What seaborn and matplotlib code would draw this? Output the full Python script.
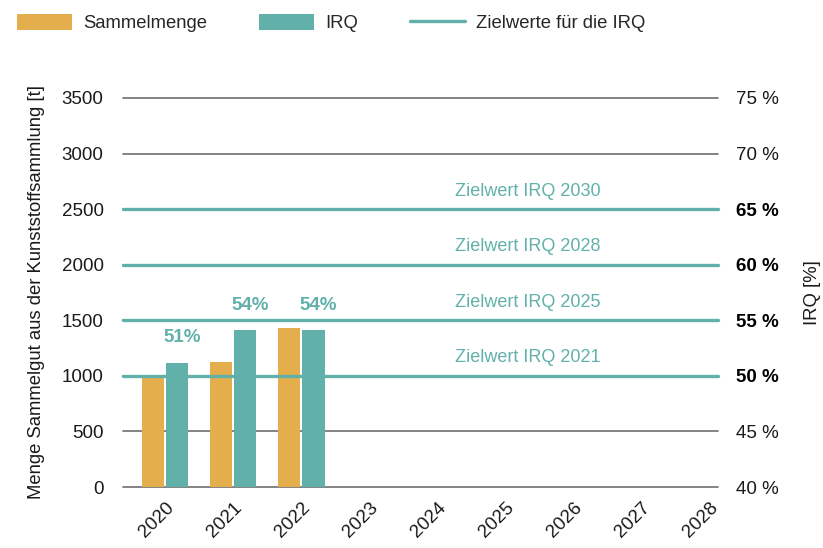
import pandas as pd
import matplotlib.pyplot as plt
import seaborn as sns
from matplotlib.patches import Patch
from matplotlib.lines import Line2D

# Daten
jahre = ['2020', '2021', '2022', '2023', '2024', '2025', '2026', '2027', '2028']
daten_jahre = ['2020', '2021', '2022']
sammelmenge = [1010, 1125, 1430]          # t
irq = [51.2, 54.1, 54.1]                  # %
irq_labels = ['51%', '54%', '54%']
ziel_jahre = ['2021', '2025', '2028', '2030']
ziel_werte = [50, 55, 60, 65]

links_ticks = [0, 500, 1000, 1500, 2000, 2500, 3000, 3500]
rechts_ticks = [40, 45, 50, 55, 60, 65, 70, 75]

orange = '#E4AE4D'
teal = '#61B1AA'
grau = '#6E6E6E'

df = pd.DataFrame({
    'Jahr': daten_jahre * 2,
    'Reihe': ['Sammelmenge'] * 3 + ['IRQ'] * 3,
    'Wert': sammelmenge + irq,
})

sns.set_theme(style='white')
plt.rcParams['font.family'] = ['Liberation Sans', 'DejaVu Sans']

fig = plt.figure(figsize=(8.23, 5.48), dpi=100)
ax = fig.add_axes([0.1495, 0.1113, 0.7229, 0.7099])
ax2 = ax.twinx()

farben = {'Sammelmenge': orange, 'IRQ': teal}
hue_order = ['Sammelmenge', 'IRQ']

# Sammelmenge links, IRQ rechts – gleiche hue_order, damit die Balken nebeneinander stehen
sns.barplot(data=df[df['Reihe'] == 'Sammelmenge'], x='Jahr', y='Wert', hue='Reihe',
            hue_order=hue_order, order=jahre, palette=farben, saturation=1, dodge=True,
            width=0.72, gap=0.1, legend=False, errorbar=None, linewidth=0, ax=ax, zorder=3)
sns.barplot(data=df[df['Reihe'] == 'IRQ'], x='Jahr', y='Wert', hue='Reihe',
            hue_order=hue_order, order=jahre, palette=farben, saturation=1, dodge=True,
            width=0.72, gap=0.1, legend=False, errorbar=None, linewidth=0, ax=ax2, zorder=3)

ax.set_ylim(0, 3500)
ax2.set_ylim(40, 75)
ax.set_xlim(-0.617, 8.12)
ax2.set_xlim(-0.617, 8.12)

# Gitterlinien
for t in links_ticks:
    ax.axhline(t, color=grau, lw=1.2, zorder=1, clip_on=False)
for w, j in zip(ziel_werte, ziel_jahre):
    ax2.axhline(w, color=teal, lw=2.4, zorder=1, clip_on=False)
    ax2.annotate(f'Zielwert IRQ {j}', xy=(5.33, w), xytext=(0, 13),
                 textcoords='offset points', ha='center', va='center',
                 color=teal, fontsize=13)

# Werte über den IRQ-Balken
for i, (v, lab) in enumerate(zip(irq, irq_labels)):
    ax2.annotate(lab, xy=(i + 0.25, v), xytext=(0, 18), textcoords='offset points',
                 ha='center', va='center', color=teal, fontsize=13.5, fontweight='bold')

for a in (ax, ax2):
    for s in a.spines.values():
        s.set_visible(False)
    a.set_xlabel('')

ax.set_yticks(links_ticks)
ax.set_yticklabels([str(t) for t in links_ticks])
ax.tick_params(axis='y', length=0, pad=14, labelsize=13.5, labelcolor='#1a1a1a')
ax.set_ylabel('Menge Sammelgut aus der Kunststoffsammlung [t]', fontsize=13.3,
              color='#1a1a1a', labelpad=12)

ax2.set_yticks(rechts_ticks)
ax2.set_yticklabels([f'{t} %' for t in rechts_ticks])
ax2.tick_params(axis='y', length=0, pad=13, labelsize=13.5, labelcolor='#1a1a1a')
for t, lab in zip(rechts_ticks, ax2.get_yticklabels()):
    if t in ziel_werte:
        lab.set_fontweight('bold')
        lab.set_color('black')
ax2.set_ylabel('IRQ [%]', fontsize=13.3, color='#1a1a1a', labelpad=18)

ax.tick_params(axis='x', length=0, pad=9, labelsize=13.5, labelcolor='#1a1a1a')
for lab in ax.get_xticklabels():
    lab.set_rotation(45)
    lab.set_ha('right')
    lab.set_va('top')
    lab.set_rotation_mode('anchor')
ax2.tick_params(axis='x', length=0, labelbottom=False)

handles = [Patch(facecolor=orange, edgecolor='none'),
           Patch(facecolor=teal, edgecolor='none'),
           Line2D([], [], color=teal, lw=2.4)]
fig.legend(handles, ['Sammelmenge', 'IRQ', 'Zielwerte für die IRQ'], loc='upper left',
           bbox_to_anchor=(0.0, 1.005), ncol=3, frameon=False, fontsize=13.3,
           handlelength=3.0, handleheight=1.0, columnspacing=2.8, handletextpad=0.6)

fig.savefig('out.png', dpi=100)
